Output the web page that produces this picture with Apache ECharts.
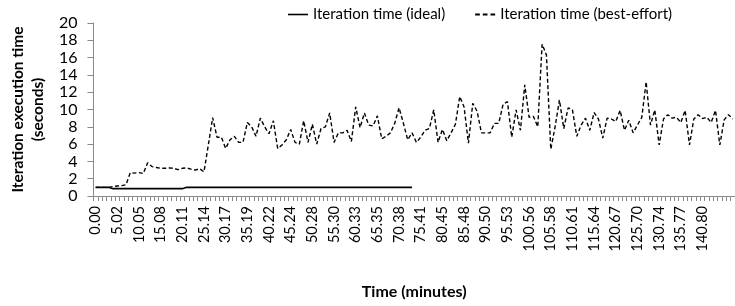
<!DOCTYPE html>
<html><head><meta charset="utf-8">
<script src="https://cdn.jsdelivr.net/npm/echarts@6/dist/echarts.min.js"></script>
<style>html,body{margin:0;padding:0;background:#fff}#c{width:735px;height:306px}</style>
</head><body><div id="c"></div>
<script>
const tickLabels = ["0.00","5.02","10.05","15.08","20.11","25.14","30.17","35.19","40.22","45.24","50.28","55.30","60.33","65.35","70.38","75.41","80.45","85.48","90.50","95.53","100.56","105.58","110.61","115.64","120.67","125.70","130.74","135.77","140.80"];
const bestEffort = [1.0,1.0,1.0,1.0,1.1,1.15,1.2,1.3,2.7,2.65,2.7,2.6,3.85,3.4,3.3,3.2,3.2,3.25,3.2,3.05,3.2,3.25,3.1,3.0,3.15,2.8,5.9,9.06,6.8,6.8,5.5,6.5,6.9,6.2,6.2,8.5,8.0,6.9,9.0,8.0,7.2,8.7,5.5,5.9,6.5,7.7,6.2,6.0,8.7,6.2,8.3,6.0,7.8,8.0,9.6,6.2,7.3,7.3,7.6,6.3,10.3,7.9,9.6,8.2,8.1,9.26,6.6,6.9,7.3,8.4,10.2,8.4,6.5,7.3,6.2,6.8,7.6,7.8,9.95,6.2,7.7,6.4,7.3,8.3,11.5,10.3,6.1,10.7,9.8,7.3,7.3,7.3,8.4,8.4,10.6,10.9,6.8,9.95,7.6,12.85,9.1,9.2,8.0,17.55,16.3,5.4,8.0,11.1,7.8,10.2,9.95,6.9,8.2,9.0,7.6,9.65,8.9,6.7,9.0,8.9,8.6,9.9,7.6,8.75,7.3,8.2,9.1,13.2,8.2,9.95,5.9,8.9,9.4,9.0,9.1,8.5,9.9,5.9,8.9,9.4,8.95,9.1,8.5,9.9,5.9,8.8,9.4,8.9];
const ideal = [1.0,1.0,1.0,1.0,0.85,0.85,0.85,0.85,0.85,0.85,0.85,0.85,0.85,0.85,0.85,0.85,0.85,0.85,0.85,0.85,0.85,1.0,1.0,1.0,1.0,1.0,1.0,1.0,1.0,1.0,1.0,1.0,1.0,1.0,1.0,1.0,1.0,1.0,1.0,1.0,1.0,1.0,1.0,1.0,1.0,1.0,1.0,1.0,1.0,1.0,1.0,1.0,1.0,1.0,1.0,1.0,1.0,1.0,1.0,1.0,1.0,1.0,1.0,1.0,1.0,1.0,1.0,1.0,1.0,1.0,1.0,1.0,1.0,1.0];
const categories = bestEffort.map((v, i) => String(i));
const FONT = 'Lato';
const chart = echarts.init(document.getElementById('c'), null, {renderer: 'canvas'});
chart.setOption({
  animation: false,
  textStyle: {fontFamily: FONT, color: '#000'},
  legend: {
    top: 2, left: 283, itemWidth: 20, itemHeight: 2, itemGap: 30,
    textStyle: {fontFamily: FONT, fontSize: 15, color: '#000'},
    itemStyle: {color: '#000'},
    data: [
      {name: 'Iteration time (ideal)', icon: 'path://M0,0H20V1.6H0Z'},
      {name: 'Iteration time (best-effort)', icon: 'path://M0,0H4V1.6H0ZM6.5,0H10.5V1.6H6.5ZM13,0H17V1.6H13Z'}
    ]
  },
  grid: {left: 93, right: -1, top: 23, bottom: 110, containLabel: false},
  xAxis: {
    type: 'category', data: categories, boundaryGap: true,
    name: 'Time (minutes)', nameLocation: 'middle', nameGap: 88,
    nameTextStyle: {fontFamily: FONT, fontWeight: 'bold', fontSize: 16, color: '#000'},
    axisLine: {lineStyle: {color: '#898989', width: 1}},
    axisTick: {show: true, interval: 0, length: 5, alignWithLabel: false, lineStyle: {color: '#898989'}},
    axisLabel: {
      interval: 4, rotate: 90, margin: 10, fontSize: 14.5, color: '#000', fontFamily: FONT,
      formatter: (v, idx) => (idx % 5 === 0 && tickLabels[idx / 5] !== undefined) ? tickLabels[idx / 5] : ''
    },
    splitLine: {show: false}
  },
  yAxis: {
    type: 'value', min: 0, max: 20, interval: 2,
    name: 'Iteration execution time\n(seconds)', nameLocation: 'middle', nameGap: 42, nameRotate: 90,
    nameTextStyle: {fontFamily: FONT, fontWeight: 'bold', fontSize: 15.5, color: '#000', lineHeight: 20},
    axisLine: {show: true, lineStyle: {color: '#898989', width: 1}},
    axisTick: {show: true, length: 6, lineStyle: {color: '#898989'}},
    axisLabel: {margin: 16, fontSize: 16, color: '#000', fontFamily: FONT},
    splitLine: {show: false}
  },
  series: [
    {name: 'Iteration time (ideal)', type: 'line', data: ideal, symbol: 'none',
     lineStyle: {color: '#000', width: 1.6, type: 'solid'}, itemStyle: {color: '#000'}},
    {name: 'Iteration time (best-effort)', type: 'line', data: bestEffort, symbol: 'none',
     lineStyle: {color: '#000', width: 1.4, type: [4, 2.5]}, itemStyle: {color: '#000'}}
  ]
});
</script></body></html>
